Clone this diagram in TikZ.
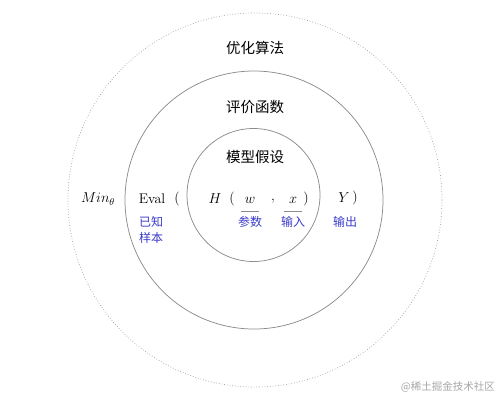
\documentclass[tikz,border=0pt]{standalone}
\usepackage{fontspec}
\newfontfamily\cjk{Noto Sans CJK SC}
\usetikzlibrary{calc}
\definecolor{lblue}{HTML}{3A3ACC}
\definecolor{cgray}{HTML}{8C8C8C}
\tikzset{
  ring/.style={draw=cgray, line width=0.75pt},
  dotring/.style={draw=cgray!85, line width=0.7pt, dotted},
  title/.style={inner sep=0pt, font=\cjk\fontsize{14.5}{16}\selectfont},
  mth/.style={inner sep=0pt, font=\fontsize{14}{16}\selectfont},
  blabel/.style={inner sep=0pt, text=lblue, font=\cjk\fontsize{12}{13}\selectfont},
  uline/.style={draw=cgray, line width=0.7pt},
  wmark/.style={inner sep=0pt, text=black!35, font=\cjk\fontsize{10.5}{12}\selectfont}
}
\begin{document}
\begin{tikzpicture}[x=1pt,y=-1pt]
\useasboundingbox (0,0) rectangle (502,405);
\draw[dotring] (255,200) circle (187);
\draw[ring] (254,200) circle (129);
\draw[ring] (253.5,195) circle (66.5);

\node[title] (opt) at (255,48) {优化算法};
\node[title] (eval) at (255,107) {评价函数};
\node[title] (model) at (255,157) {模型假设};

\node[mth] (min) at (98,199) {$Min_\theta$};
\node[mth] (evalt) at (152,199) {Eval};
\node[mth] (p1) at (177,199) {(};
\node[mth] (H) at (215,199) {$H$};
\node[mth] (p2) at (232,199) {(};
\node[mth] (w) at (250,200) {$w$};
\node[mth] (comma) at (273,201) {,};
\node[mth] (x) at (293,200) {$x$};
\node[mth] (p3) at (306,199) {)};
\node[mth] (Y) at (344,198) {$Y$};
\node[mth] (p4) at (355,198) {)};

\coordinate (wl) at (241,211);
\coordinate (wr) at (259,211);
\coordinate (xl) at (284,211);
\coordinate (xr) at (302,211);
\draw[uline] (wl) -- (wr);
\draw[uline] (xl) -- (xr);

\node[blabel] (can) at (250,222) {参数};
\node[blabel] (inp) at (293,222) {输入};
\node[blabel] (outp) at (345,222) {输出};
\node[blabel, anchor=west] (yz) at (139,222) {已知};
\node[blabel, anchor=west] (yb) at (139,238) {样本};

\node[wmark, anchor=east] (wm) at (495,387) {@稀土掘金技术社区};
\end{tikzpicture}
\end{document}
